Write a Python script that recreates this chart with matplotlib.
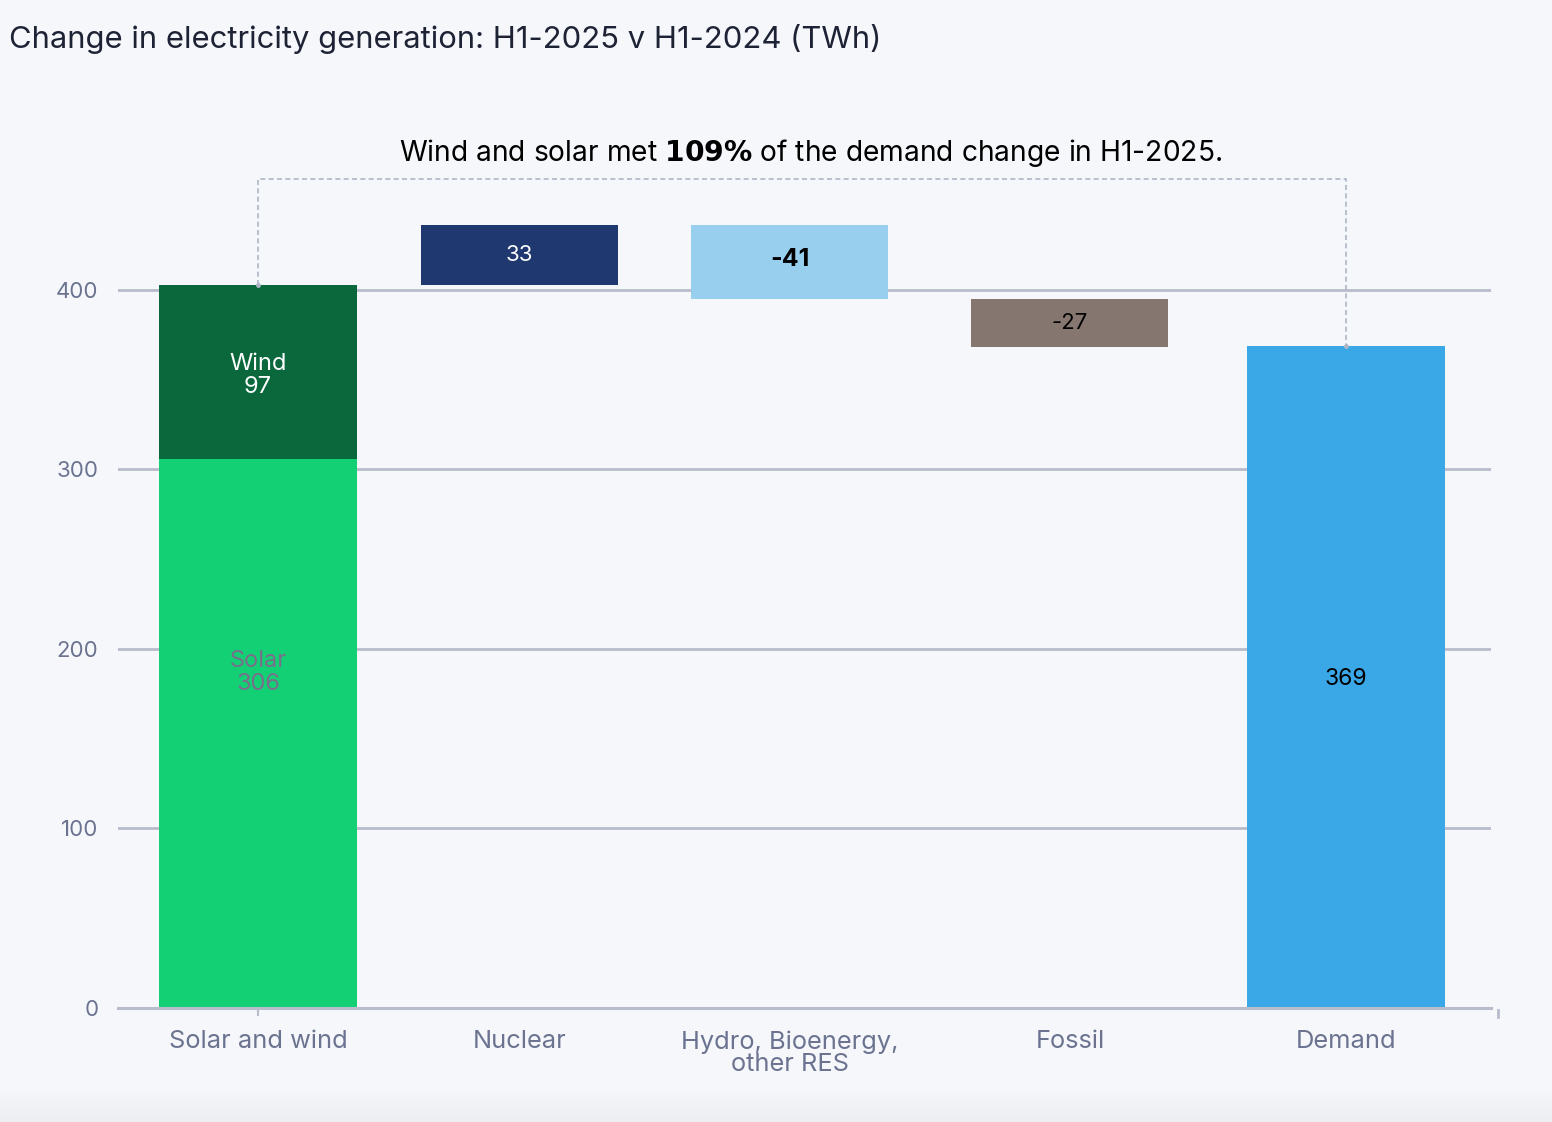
import matplotlib
matplotlib.use("Agg")
import matplotlib.pyplot as plt
import numpy as np
from matplotlib.colors import LinearSegmentedColormap

plt.rcParams['font.family'] = ['Inter', 'DejaVu Sans']

categories = ["Solar and wind", "Nuclear", "Hydro, Bioenergy,\nother RES", "Fossil", "Demand"]
solar = 306
wind = 97
changes = [33, -41, -27]          # Nuclear, Hydro etc, Fossil
demand = 369
yticks = [0, 100, 200, 300, 400]

bg = "#f5f7fb"
c_solar = "#13d075"
c_wind = "#0a683c"
c_change = ["#1f3870", "#99cfee", "#857670"]
c_demand = "#3aa7e6"
lbl_change = ["white", "black", "black"]
wt_change = ["normal", "bold", "normal"]
sz_change = [16, 18, 16]

fig = plt.figure(figsize=(15.52, 11.22), dpi=100, facecolor=bg)

# soft gradient strip at the bottom
gax = fig.add_axes([0, 0, 1, 0.03], zorder=-10)
grad = np.linspace(0, 1, 64).reshape(-1, 1)
cmap = LinearSegmentedColormap.from_list("g", ["#edeef2", bg])
gax.imshow(grad, aspect="auto", cmap=cmap, extent=[0, 1, 0, 1], origin="lower",
           interpolation="bilinear")
gax.axis("off")

ax = fig.add_axes([0.076, 0.1016, 0.885, 0.752])
ax.set_facecolor(bg)

W = 0.725
x = [0, 0.96, 1.955, 2.985, 4.0]

# Solar and wind stacked
ax.bar(x[0], solar, width=W, color=c_solar, zorder=3)
ax.bar(x[0], wind, bottom=solar, width=W, color=c_wind, zorder=3)
ax.text(x[0], solar * 0.61, f"Solar\n{solar}", ha="center", va="center",
        fontsize=17, color="#7a6e8c", linespacing=1.05, zorder=4)
ax.text(x[0], solar + wind * 0.48, f"Wind\n{wind}", ha="center", va="center",
        fontsize=17, color="white", linespacing=1.05, zorder=4)

# Floating change bars
level = solar + wind
for i, ch in enumerate(changes):
    start = level
    end = level + ch
    lo, hi = min(start, end), max(start, end)
    ax.bar(x[i + 1], hi - lo, bottom=lo, width=W, color=c_change[i], zorder=3)
    ax.text(x[i + 1], (lo + hi) / 2 + (1.5 if i == 1 else 0), f"{ch}", ha="center", va="center",
            fontsize=sz_change[i], color=lbl_change[i], fontweight=wt_change[i], zorder=4)
    level = end

# Demand
ax.bar(x[4], demand, width=W, color=c_demand, zorder=3)
ax.text(x[4], demand / 2 - 1.5, f"{demand}", ha="center", va="center",
        fontsize=16.5, color="black", zorder=4)

# Dashed bracket
top = 462
ax.plot([x[0], x[0], x[4], x[4]], [solar + wind, top, top, demand],
        ls=(0, (3, 2)), color="#aeb5c6", lw=1.2, zorder=2, clip_on=False)
ax.plot([x[0], x[4]], [solar + wind, demand], "o", ms=2.5, color="#aeb5c6", zorder=4)
ax.text(2.03, 476, "Wind and solar met $\\bf{109\\%}$ of the demand change in H1-2025.",
        ha="center", va="center", fontsize=20.3, color="black")

ax.set_xlim(-0.515, 4.535)
ax.set_ylim(0, 470)
ax.set_yticks(yticks)
ax.set_yticklabels([str(v) for v in yticks], fontsize=16, color="#6b7390")
ax.set_xticks(x)
ax.set_xticklabels(categories, fontsize=18.3, color="#6b7390", linespacing=0.95)
ax.tick_params(axis="y", length=0, pad=14)
ax.tick_params(axis="x", length=0, pad=16)

ax.grid(axis="y", color="#b8bccb", lw=2, zorder=1)
for s in ["top", "right", "left"]:
    ax.spines[s].set_visible(False)
ax.spines["bottom"].set_color("#b8bccb")
ax.spines["bottom"].set_linewidth(2.2)
ax.spines["bottom"].set_zorder(5)

# small tick marks
ax.plot([x[0], x[0]], [0, -4], color="#b8bccb", lw=1.5, clip_on=False)
ax.plot([4.56, 4.56], [-1, -5], color="#b8bccb", lw=2, clip_on=False)

fig.text(0.006, 0.965, "Change in electricity generation: H1-2025 v H1-2024 (TWh)",
         ha="left", va="center", fontsize=22.3, color="#1e2235")

fig.savefig("out.png", dpi=100, facecolor=bg)
